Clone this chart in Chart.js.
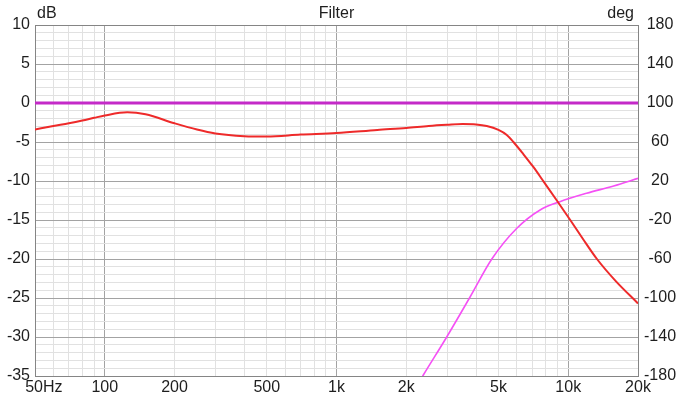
<!DOCTYPE html>
<html>
<head>
<meta charset="utf-8">
<script src="https://cdn.jsdelivr.net/npm/chart.js@4/dist/chart.umd.min.js"></script>
<style>
  html, body { margin: 0; padding: 0; background: #fff; }
  canvas { display: block; }
</style>
</head>
<body>
<canvas id="filterChart" width="684" height="396"></canvas>
<script>
// frequency axis
const freqGrid = [50, 60, 70, 80, 90, 100, 200, 300, 400, 500, 600, 700, 800, 900,
  1000, 2000, 3000, 4000, 5000, 6000, 7000, 8000, 9000, 10000, 20000];
const freqMajor = [100, 1000, 10000];
const freqLabelValues = [50, 100, 200, 500, 1000, 2000, 5000, 10000, 20000];
const freqLabelTexts = ['    50Hz', '100', '200', '500', '1k', '2k', '5k', '10k', '20k'];

// level / phase axes
const dbLabels = [10, 5, 0, -5, -10, -15, -20, -25, -30, -35];
const degLabels = [180, 140, 100, 60, 20, -20, -60, -100, -140, -180];

// magnitude response (dB)
const magFreqs = [50, 60, 70, 80, 90, 100, 125, 150, 200, 250, 300, 400, 500, 700, 1000,
  1500, 2000, 2500, 3000, 3500, 4000, 4450, 5000, 5430, 5800, 6400, 7070, 7800, 8930,
  10200, 11500, 13300, 16000, 20000];
const magDb = [-3.4, -2.95, -2.6, -2.25, -1.9, -1.6, -1.2, -1.45, -2.6, -3.4, -3.9, -4.25,
  -4.3, -4.05, -3.85, -3.45, -3.2, -2.95, -2.8, -2.7, -2.75, -2.95, -3.45, -4.1, -5,
  -6.55, -8.2, -10, -12.5, -15, -17.3, -20, -22.8, -25.7];

// flat reference line (dB)
const flatFreqs = [50, 20000];
const flatDb = [0, 0];

// phase (deg)
const phaseFreqs = [2100, 2370, 2990, 3770, 4680, 6000, 7560, 9200, 12000, 15700, 20000];
const phaseDeg = [-200, -179, -140, -99, -60, -28.5, -9.7, -1.2, 7.4, 14.9, 22.7];

const FONT = { family: '"Liberation Sans", Arial, sans-serif', size: 16 };
const TEXT_COLOR = '#1e1e1e';
const FRAME = '#858585';
const MAJOR = '#a3a3a3';
const MINOR = '#e1e1e1';

function toPoints(xs, ys) {
  return xs.map((x, i) => ({ x, y: ys[i] }));
}

const headerPlugin = {
  id: 'headers',
  afterDraw(chart) {
    const { ctx, chartArea } = chart;
    ctx.save();
    ctx.font = `${FONT.size}px ${FONT.family}`;
    ctx.fillStyle = TEXT_COLOR;
    ctx.textBaseline = 'middle';
    ctx.textAlign = 'left';
    ctx.fillText('dB', chartArea.left + 2, 14);
    ctx.textAlign = 'center';
    ctx.fillText('Filter', (chartArea.left + chartArea.right) / 2, 14);
    ctx.textAlign = 'right';
    ctx.fillText('deg', chartArea.right - 4, 14);
    ctx.restore();
  }
};

new Chart(document.querySelector('#filterChart'), {
  type: 'line',
  data: {
    datasets: [
      {
        label: 'Magnitude',
        data: toPoints(magFreqs, magDb),
        borderColor: '#ee2a2a',
        borderWidth: 2,
        pointRadius: 0,
        cubicInterpolationMode: 'monotone',
        yAxisID: 'y'
      },
      {
        label: 'Reference',
        data: toPoints(flatFreqs, flatDb),
        borderColor: '#c42ac8',
        borderWidth: 3,
        pointRadius: 0,
        yAxisID: 'y'
      },
      {
        label: 'Phase',
        data: toPoints(phaseFreqs, phaseDeg),
        borderColor: '#f550f5',
        borderWidth: 1.6,
        pointRadius: 0,
        cubicInterpolationMode: 'monotone',
        yAxisID: 'y1'
      }
    ]
  },
  options: {
    responsive: false,
    animation: false,
    layout: { padding: { top: 25, left: 0, right: 0, bottom: 0 } },
    plugins: {
      legend: { display: false },
      tooltip: { enabled: false },
      title: { display: false }
    },
    scales: {
      x: {
        type: 'logarithmic',
        min: 50,
        max: 20000,
        afterBuildTicks: (scale) => {
          scale.ticks = freqGrid.map((value) => ({ value }));
        },
        afterFit: (scale) => { scale.height = 20; },
        ticks: {
          autoSkip: false,
          maxRotation: 0,
          minRotation: 0,
          padding: 2,
          color: TEXT_COLOR,
          font: FONT,
          callback: (value) => {
            const i = freqLabelValues.indexOf(value);
            return i < 0 ? '' : freqLabelTexts[i];
          }
        },
        grid: {
          drawTicks: false,
          color: (ctx) => (freqMajor.includes(ctx.tick.value) ? MAJOR : MINOR)
        },
        border: { color: FRAME, width: 1 }
      },
      y: {
        position: 'left',
        min: -35,
        max: 10,
        afterBuildTicks: (scale) => {
          const ticks = [];
          for (let v = -35; v <= 10; v++) ticks.push({ value: v });
          scale.ticks = ticks;
        },
        afterFit: (scale) => { scale.width = 35; },
        ticks: {
          autoSkip: false,
          padding: 5,
          color: TEXT_COLOR,
          font: FONT,
          callback: (value) => (dbLabels.includes(value) ? String(value) : '')
        },
        grid: {
          drawTicks: false,
          color: (ctx) => {
            const v = ctx.tick.value;
            if (v === 10 || v === -35) return FRAME;
            return dbLabels.includes(v) ? MAJOR : MINOR;
          }
        },
        border: { color: FRAME, width: 1 }
      },
      y1: {
        position: 'right',
        min: -180,
        max: 180,
        afterBuildTicks: (scale) => {
          scale.ticks = degLabels.map((value) => ({ value }));
        },
        afterFit: (scale) => { scale.width = 46; },
        ticks: {
          autoSkip: false,
          padding: 6,
          crossAlign: 'center',
          color: TEXT_COLOR,
          font: FONT
        },
        grid: { drawOnChartArea: false, drawTicks: false },
        border: { color: FRAME, width: 1 }
      }
    }
  },
  plugins: [headerPlugin]
});
</script>
</body>
</html>
